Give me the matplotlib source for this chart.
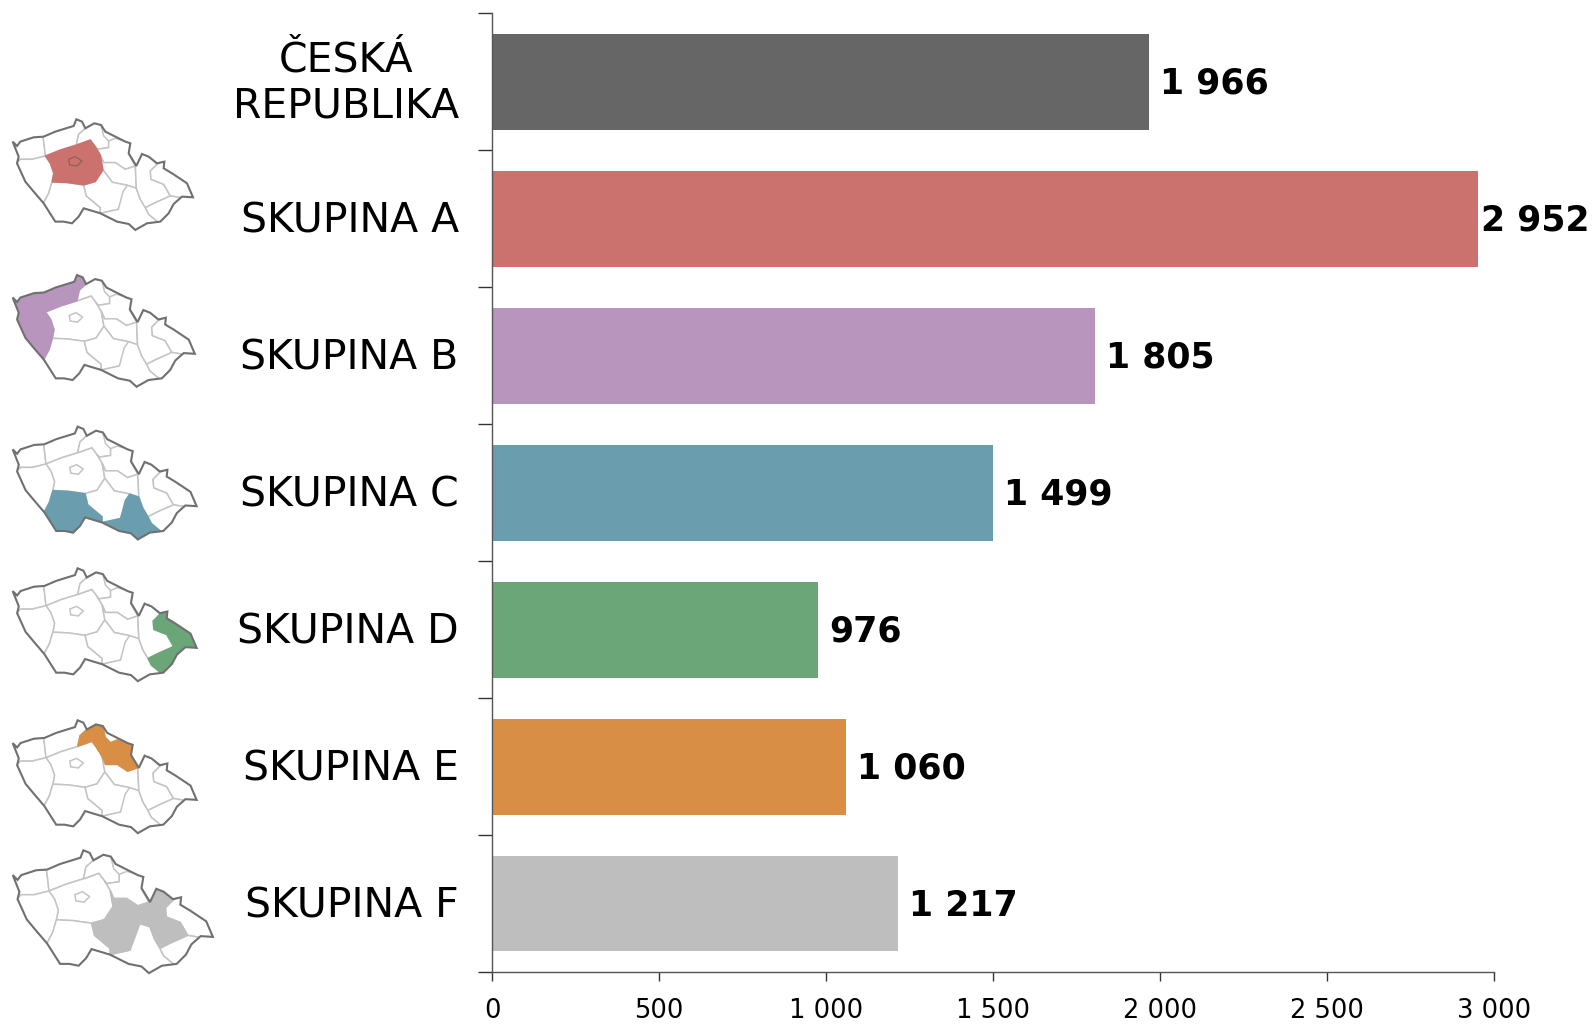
import matplotlib.pyplot as plt
from matplotlib.patches import Polygon
from matplotlib.transforms import Affine2D

# chart data
categories = ["ČESKÁ\nREPUBLIKA", "SKUPINA A", "SKUPINA B", "SKUPINA C",
              "SKUPINA D", "SKUPINA E", "SKUPINA F"]
values = [1966, 2952, 1805, 1499, 976, 1060, 1217]
bar_colors = ["#666666", "#CB716E", "#B795BD", "#6A9EAF",
              "#6AA678", "#D98E45", "#BEBEBE"]
x_ticks = [0, 500, 1000, 1500, 2000, 2500, 3000]

# small map of the regions (3x pixels)
outline = [(37, 425), (50, 438), (60, 425), (100, 412), (130, 410), (165, 395),
           (220, 378), (228, 358), (245, 365), (255, 385), (282, 370), (302, 375),
           (315, 395), (345, 410), (375, 425), (390, 430), (385, 460), (408, 498),
           (425, 462), (445, 470), (470, 490), (492, 485), (490, 505), (515, 520),
           (545, 540), (560, 550), (578, 592), (545, 590), (520, 612), (505, 640),
           (480, 665), (440, 670), (405, 690), (385, 672), (350, 665), (300, 640),
           (250, 625), (235, 650), (215, 670), (190, 665), (165, 665), (130, 610),
           (100, 575), (75, 545), (50, 490), (55, 470)]
regions = {
    "kv": [(30, 415), (60, 418), (100, 412), (128, 410), (132, 440), (135, 468),
           (95, 478), (60, 478), (50, 488), (45, 453)],
    "usti": [(128, 410), (165, 390), (220, 375), (228, 355), (250, 365), (255, 385),
             (235, 403), (228, 435), (180, 450), (135, 468), (132, 440)],
    "stredo": [(135, 468), (180, 450), (228, 435), (270, 420), (285, 440), (300, 465),
               (308, 510), (285, 545), (250, 555), (200, 548), (155, 546), (160, 520),
               (150, 490)],
    "plzen": [(50, 488), (60, 478), (95, 478), (135, 468), (150, 490), (160, 520),
              (155, 546), (145, 580), (128, 612), (95, 575), (70, 548)],
    "jihocesky": [(128, 612), (145, 580), (155, 546), (200, 548), (250, 555), (258, 588),
                  (300, 623), (300, 645), (250, 628), (230, 670), (200, 675), (165, 670)],
    "liberec": [(235, 403), (255, 385), (282, 370), (302, 375), (310, 408), (325, 423),
                (325, 443), (290, 448), (285, 440), (270, 420), (228, 435)],
    "hradec": [(290, 448), (325, 443), (325, 423), (345, 415), (395, 430), (385, 463),
               (405, 498), (375, 508), (345, 488), (310, 488), (300, 465), (285, 440)],
    "pardubice": [(300, 465), (310, 488), (345, 488), (375, 508), (405, 498), (408, 565),
                  (381, 556), (336, 547), (308, 510)],
    "vysocina": [(250, 555), (285, 545), (308, 510), (336, 547), (381, 556), (368, 592),
                 (354, 628), (300, 640), (300, 623), (258, 588)],
    "jihomor": [(300, 640), (354, 628), (368, 575), (381, 556), (408, 565), (420, 598),
                (435, 623), (445, 643), (480, 672), (440, 678), (410, 695), (380, 678),
                (340, 668)],
    "olomouc": [(405, 498), (425, 462), (449, 472), (470, 493), (450, 513), (452, 538),
                (490, 553), (510, 588), (465, 608), (435, 623), (420, 598), (408, 565)],
    "ms": [(470, 493), (495, 480), (530, 528), (565, 543), (585, 596), (540, 593),
           (510, 588), (490, 553), (452, 538), (450, 513)],
    "zlin": [(435, 623), (465, 608), (510, 588), (540, 593), (520, 623), (495, 653),
             (480, 672), (445, 643)],
    "praha": [(205, 478), (225, 470), (245, 483), (230, 498), (208, 495)],
}
highlights = [["stredo", "praha"], ["usti", "kv", "plzen"], ["jihocesky", "jihomor"],
              ["ms", "zlin"], ["liberec", "hradec"], ["pardubice", "vysocina", "olomouc"]]
map_colors = bar_colors[1:]
map_shift_y = [0, 155.7, 307.3, 449, 601, 731]
map_scale = [1.0, 1.01, 1.02, 1.02, 1.02, 1.11]

W, H = 1594, 1025


def draw_map(ax, active, color, dy, scale):
    def to_px(points):
        return [(12 + (x - 35) / 3 * scale, 119.3 + dy + (y - 358) / 3 * scale)
                for x, y in points]

    border = Polygon(to_px(outline), closed=True, fc="white", ec="none", zorder=1)
    ax.add_patch(border)
    for name, points in regions.items():
        if name in active:
            continue
        p = Polygon(to_px(points), closed=True, fc="white", ec="#c4c4c4", lw=1.1, zorder=2)
        ax.add_patch(p)
        p.set_clip_path(border)
    for name in active:
        edge = "#8a5f5c" if name == "praha" else color
        p = Polygon(to_px(regions[name]), closed=True, fc=color, ec=edge, lw=0.8, zorder=3)
        ax.add_patch(p)
        p.set_clip_path(border)
    ax.add_patch(Polygon(to_px(outline), closed=True, fc="none", ec="#707070",
                         lw=1.5, zorder=4))


fig = plt.figure(figsize=(W / 100, H / 100), dpi=100)
ax = fig.add_axes([492 / W, 1 - 972 / H, (1494 - 492) / W, (972 - 13.5) / H])

y = list(range(len(categories)))
ax.barh(y, values, height=0.7, color=bar_colors, zorder=2)
ax.set_xlim(0, 3000)
ax.set_ylim(len(categories) - 0.5, -0.5)

for i, v in enumerate(values):
    label = f"{v:,}".replace(",", " ")
    ax.annotate(label, (v, i), xytext=(3 if v > 2900 else 11, -2),
                textcoords="offset pixels", va="center", ha="left",
                fontsize=25, fontweight="bold", color="black", clip_on=False)

for side in ("top", "right"):
    ax.spines[side].set_visible(False)
for side in ("left", "bottom"):
    ax.spines[side].set_color("#555555")
    ax.spines[side].set_linewidth(1.0)

ax.set_xticks(x_ticks)
ax.set_xticklabels([f"{t:,}".replace(",", " ") for t in x_ticks], fontsize=18.5)
ax.tick_params(axis="x", length=6.5, width=1, color="#333333", pad=12)

ax.set_yticks([i - 0.5 for i in range(len(categories) + 1)])
ax.set_yticklabels([])
ax.tick_params(axis="y", which="major", length=10, width=1, color="#333333")
ax.set_yticks(y, minor=True)
ax.set_yticklabels(categories, minor=True, fontsize=29.5, ma="center", linespacing=1.2)
ax.tick_params(axis="y", which="minor", length=0, pad=24)

# nudge the labels up a little, the two line one more
for i, tick_label in enumerate(ax.get_yticklabels(minor=True)):
    tick_label.set_transform(tick_label.get_transform()
                             + Affine2D().translate(0, 6 if i == 0 else 2))

# overlay in figure pixels for the small maps
ov = fig.add_axes([0, 0, 1, 1], zorder=-1)
ov.set_xlim(0, W)
ov.set_ylim(H, 0)
ov.axis("off")
for active, color, dy, scale in zip(highlights, map_colors, map_shift_y, map_scale):
    draw_map(ov, active, color, dy, scale)

fig.savefig("out.png", dpi=100)
